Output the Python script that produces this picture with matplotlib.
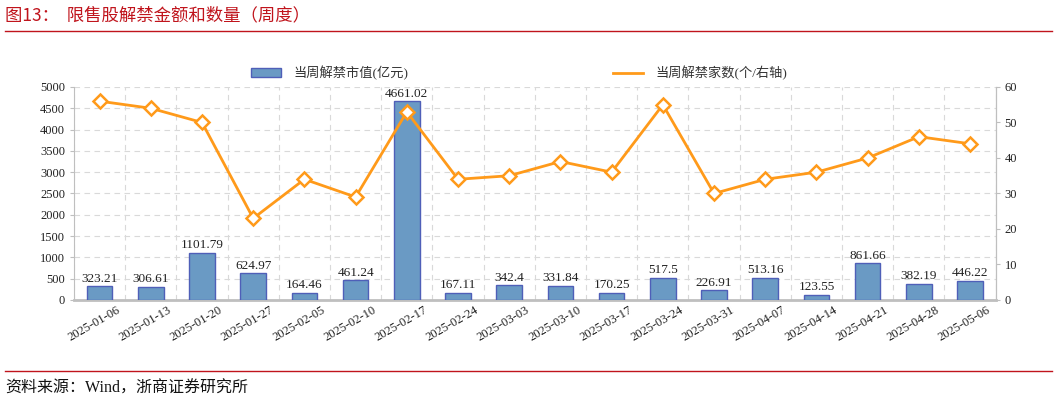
import matplotlib
matplotlib.use('Agg')
import matplotlib.pyplot as plt
from matplotlib.lines import Line2D
import numpy as np

plt.rcParams['font.family'] = ['Liberation Serif', 'Noto Sans CJK SC', 'DejaVu Sans']

weeks = ['2025-01-06', '2025-01-13', '2025-01-20', '2025-01-27', '2025-02-05',
         '2025-02-10', '2025-02-17', '2025-02-24', '2025-03-03', '2025-03-10',
         '2025-03-17', '2025-03-24', '2025-03-31', '2025-04-07', '2025-04-14',
         '2025-04-21', '2025-04-28', '2025-05-06']
unlock_value = [323.21, 306.61, 1101.79, 624.97, 164.46, 461.24, 4661.02, 167.11, 342.4,
                331.84, 170.25, 517.5, 226.91, 513.16, 123.55, 861.66, 382.19, 446.22]
unlock_count = [56, 54, 50, 23, 34, 29, 53, 34, 35, 39, 36, 55, 30, 34, 36, 40, 46, 44]

bar_color = '#6A9AC4'
bar_edge = '#4F5FB8'
line_color = '#FF9A1A'
red = '#C0141C'
grey = '#BFBFBF'

fig = plt.figure(figsize=(10.57, 4.03), dpi=100)
ax = fig.add_axes([0.070, 0.2556, 0.872, 0.5286])
x = np.arange(len(weeks))

bars = ax.bar(x, unlock_value, width=0.5, color=bar_color, edgecolor=bar_edge,
              linewidth=1.0, zorder=3, label='当周解禁市值(亿元)')
for xi, v in zip(x, unlock_value):
    ax.text(xi, v + 40, '{:g}'.format(v), ha='center', va='bottom', fontsize=9.5,
            color='#222222', zorder=4)

ax.set_xlim(-0.5, len(weeks) - 0.5)
ax.set_ylim(0, 5000)
ax.set_yticks(np.arange(0, 5001, 500))
# labels sit to the right of the bar centre, ending near the category edge
ax.set_xticks(x + 0.44)
ax.set_xticklabels(weeks, rotation=30, ha='right', va='top', fontsize=9)
ax.tick_params(axis='x', length=0, pad=3, colors='#222222')
ax.tick_params(axis='y', length=3, labelsize=9, colors='#222222', color=grey)

ax.set_xticks(np.arange(-0.5, len(weeks), 1.0), minor=True)
ax.grid(True, which='minor', axis='x', color='#D9D9D9', linestyle=(0, (5, 4)), linewidth=0.8, zorder=0)
ax.grid(True, which='major', axis='y', color='#D9D9D9', linestyle=(0, (5, 4)), linewidth=0.8, zorder=0)
ax.tick_params(axis='x', which='minor', length=0)
ax.set_axisbelow(True)

ax.spines['top'].set_visible(False)
ax.spines['left'].set_color(grey)
ax.spines['right'].set_color(grey)
ax.spines['bottom'].set_color(grey)
ax.spines['bottom'].set_linewidth(2)

ax2 = ax.twinx()
ax2.plot(x, unlock_count, color=line_color, linewidth=2, marker='D', markersize=7,
         markerfacecolor='white', markeredgecolor=line_color, markeredgewidth=1.8,
         zorder=5)
ax2.set_ylim(0, 60)
ax2.set_yticks(np.arange(0, 61, 10))
ax2.tick_params(axis='y', length=3, labelsize=9, colors='#222222', color=grey)
for side in ['top', 'left', 'bottom']:
    ax2.spines[side].set_visible(False)
ax2.spines['right'].set_color(grey)

line_handle = Line2D([], [], color=line_color, linewidth=2)
leg = fig.legend([bars, line_handle], ['当周解禁市值(亿元)', '当周解禁家数(个/右轴)'],
                 loc='center', bbox_to_anchor=(0.491, 0.819), ncol=2, frameon=False,
                 fontsize=9.5, handlelength=2.3, columnspacing=15.5, handletextpad=0.9)
for t in leg.get_texts():
    t.set_color('#333333')

fig.text(0.005, 0.962, '图13：  限售股解禁金额和数量（周度）', fontsize=12.5,
         color=red, ha='left', va='center', family=['Noto Sans CJK SC'])
fig.add_artist(Line2D([0.005, 0.995], [1 - 31 / 403] * 2, color=red, linewidth=1.0))
fig.add_artist(Line2D([0.005, 0.995], [1 - 371 / 403] * 2, color=red, linewidth=1.0))
fig.text(0.005, 1 - 389 / 403, '资料来源：Wind，浙商证券研究所', fontsize=11.5,
         color='#111111', ha='left', va='center')

fig.savefig('out.png', dpi=100)
